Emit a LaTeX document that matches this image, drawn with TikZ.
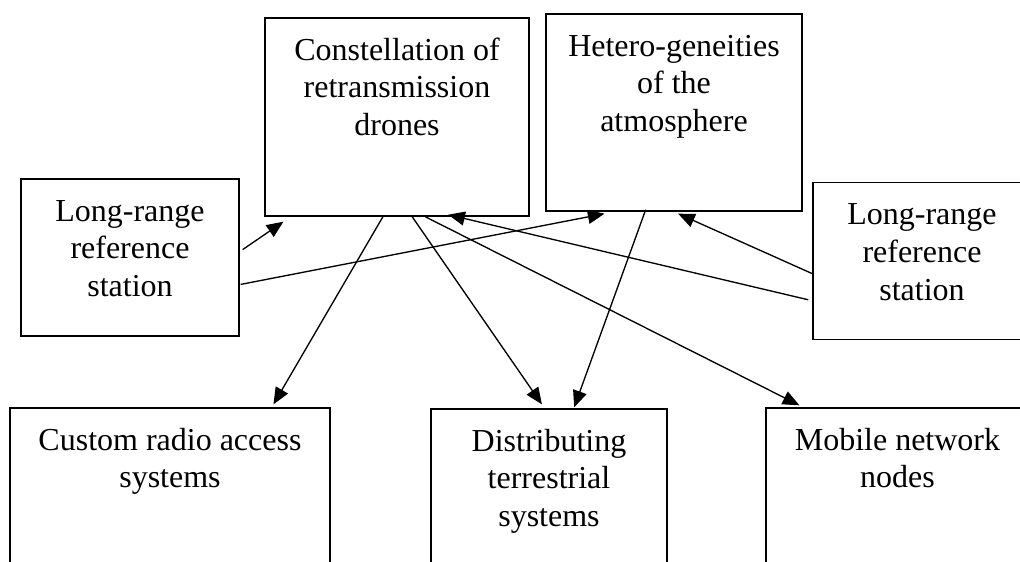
\documentclass[tikz,border=0pt]{standalone}
\usepackage{fontspec}
\setmainfont{Liberation Serif}
\usepackage{tikz}
\usetikzlibrary{arrows.meta}
\usetikzlibrary{calc}
\pgfdeclarelayer{edgelayer}
\pgfdeclarelayer{nodelayer}
\pgfsetlayers{edgelayer,nodelayer,main}
\tikzstyle{box}=[draw=black,line width=1pt,shape=rectangle,inner sep=0mm,font=\fontsize{24}{28.2}\selectfont]
\tikzstyle{arr}=[line width=1pt,-{Triangle[length=12.5pt,width=10.5pt]}]
\newcommand{\boxtext}[3]{\parbox[c][#2][t]{#1}{\vspace*{12pt}\centering\strut #3}}

\begin{document}
\begin{tikzpicture}[x=0.75pt,y=-0.75pt]
	\useasboundingbox (0, 0) rectangle (1020, 561);
	\begin{pgfonlayer}{nodelayer}
		\node [style=box] (cons) at (397, 117) {\boxtext{198pt}{148.5pt}{Constellation of\\retransmission\\drones}};
		\node [style=box] (het) at (674, 112.5) {\boxtext{192pt}{147.75pt}{Hetero-geneities\\of the\\atmosphere}};
		\node [style=box] (lrsL) at (130, 257.5) {\boxtext{163.5pt}{117.75pt}{Long-range\\reference\\station}};
		\node [style=box] (lrsR) at (922, 261) {\boxtext{163.5pt}{117.75pt}{Long-range\\reference\\station}};
		\node [style=box] (custom) at (170, 514) {\boxtext{240pt}{159pt}{Custom radio access\\systems}};
		\node [style=box] (dist) at (549, 514.5) {\boxtext{177pt}{158.25pt}{Distributing\\terrestrial\\systems}};
		\node [style=box] (mobile) at (897.5, 514) {\boxtext{197.25pt}{159pt}{Mobile network\\nodes}};
	\end{pgfonlayer}
	\begin{pgfonlayer}{edgelayer}
		\draw [style=arr] ($(lrsL.north east)!.45!(lrsL.south east)+(3,0)$) to ($(cons.south west)!.072!(cons.south east)+(0,5)$);
		\draw [style=arr] ($(lrsL.north east)!.67!(lrsL.south east)+(1,0)$) to ($(het.south west)!.23!(het.south east)+(0,2)$);
		\draw [style=arr] ($(lrsR.north west)!.745!(lrsR.south west)+(-4,0)$) to ($(cons.south west)!.693!(cons.south east)+(0,-2)$);
		\draw [style=arr] ($(lrsR.north west)!.58!(lrsR.south west)$) to ($(het.south west)!.516!(het.south east)+(0,2)$);
		\draw [style=arr] ($(cons.south west)!.447!(cons.south east)$) to ($(custom.north west)!.822!(custom.north east)+(0,-3)$);
		\draw [style=arr] ($(cons.south west)!.557!(cons.south east)$) to ($(dist.north west)!.47!(dist.north east)+(0,-4)$);
		\draw [style=arr] ($(cons.south west)!.606!(cons.south east)$) to ($(mobile.north west)!.129!(mobile.north east)+(0,-2)$);
		\draw [style=arr] ($(het.south west)!.39!(het.south east)+(0,-2)$) to ($(dist.north west)!.606!(dist.north east)+(0,-1)$);
	\end{pgfonlayer}
\end{tikzpicture}
\end{document}
